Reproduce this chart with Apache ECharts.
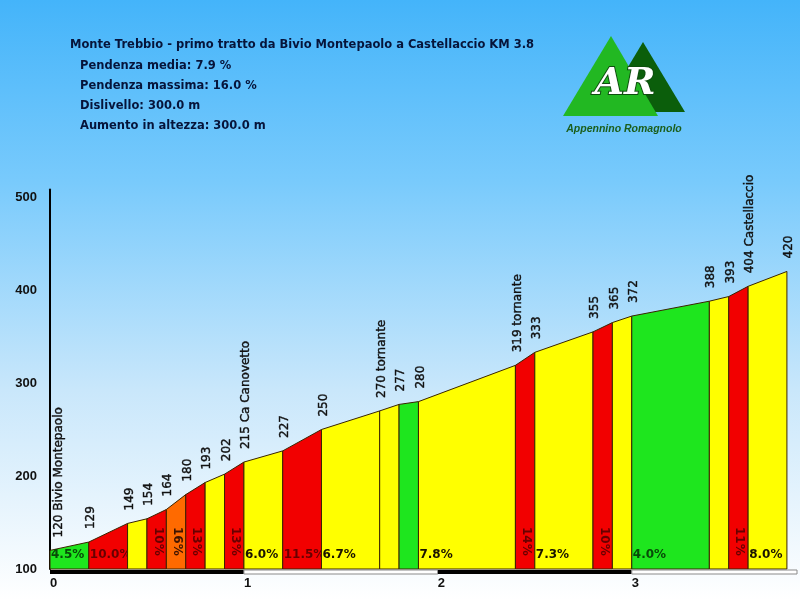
<!DOCTYPE html>
<html><head><meta charset="utf-8">
<script src="https://cdn.jsdelivr.net/npm/echarts@6/dist/echarts.min.js"></script>
<style>html,body{margin:0;padding:0;background:#fff}#c{width:800px;height:600px;}</style>
</head><body><div id="c"></div>
<script>
// ---- data ----
const km = [0, 0.2, 0.4, 0.5, 0.6, 0.7, 0.8, 0.9, 1.0, 1.2, 1.4, 1.7, 1.8, 1.9, 2.4, 2.5, 2.8, 2.9, 3.0, 3.4, 3.5, 3.6, 3.8];
const elevation = [120, 129, 149, 154, 164, 180, 193, 202, 215, 227, 250, 270, 277, 280, 319, 333, 355, 365, 372, 388, 393, 404, 420];
const placeNames = ['Bivio Montepaolo', '', '', '', '', '', '', '', 'Ca Canovetto', '', '', 'tornante', '', '', 'tornante', '', '', '', '', '', '', 'Castellaccio', ''];
const gradeLabels = ['4.5%', '10.0%', '', '10%', '16%', '13%', '', '13%', '6.0%', '11.5%', '6.7%', '', '', '7.8%', '14%', '7.3%', '10%', '', '4.0%', '', '11%', '8.0%'];
const yTicks = [100, 200, 300, 400, 500];
const xTicks = [0, 1, 2, 3];
const titleText = 'Monte Trebbio - primo tratto da Bivio Montepaolo a Castellaccio KM 3.8';
const infoLines = ['Pendenza media: 7.9 %', 'Pendenza massima: 16.0 %', 'Dislivello: 300.0 m', 'Aumento in altezza: 300.0 m'];
const logoText = 'AR';
const logoSub = 'Appennino Romagnolo';

// ---- styling helpers ----
const X_MAX = 3.852, Y_MIN = 100, Y_MAX = 508;
function fillFor(g) { return g < 5 ? '#1ee61e' : g < 10 ? '#ffff00' : g < 15.5 ? '#f20000' : '#ff6a00'; }
function textFor(g) { return g < 5 ? '#084a08' : g < 10 ? '#1a1400' : g < 15.5 ? '#680000' : '#401400'; }

const segs = [];
for (let i = 0; i < km.length - 1; i++) {
  const g = Math.round((elevation[i + 1] - elevation[i]) / ((km[i + 1] - km[i]) * 1000) * 1000) / 10;
  segs.push([km[i], elevation[i], km[i + 1], elevation[i + 1], g, i]);
}
const points = km.map((k, i) => [k, elevation[i], i]);
const kmBars = xTicks.map((t, i) => [t, i + 1 < xTicks.length ? xTicks[i + 1] : X_MAX, i]);

const chart = echarts.init(document.getElementById('c'), null, { renderer: 'canvas' });
const HEAD_FONT = 'bold 11.5px "DejaVu Sans"';
const GRADE_FONT = 'bold 12px "DejaVu Sans"';

const option = {
  animation: false,
  backgroundColor: {
    type: 'linear', x: 0, y: 0, x2: 0, y2: 1,
    colorStops: [
      { offset: 0, color: '#44b4fa' },
      { offset: 0.3, color: '#78cafc' },
      { offset: 0.65, color: '#c9e7fb' },
      { offset: 1, color: '#ffffff' }
    ]
  },
  grid: { left: 50, right: 0, top: 189.6, bottom: 31 },
  xAxis: {
    type: 'value', min: 0, max: X_MAX, interval: 1,
    axisLine: { show: false }, axisTick: { show: false }, splitLine: { show: false },
    axisLabel: {
      margin: 8, align: 'left', color: '#111', fontFamily: 'Liberation Sans', fontWeight: 'bold', fontSize: 13,
      formatter: v => (xTicks.indexOf(v) >= 0 ? String(v) : '')
    }
  },
  yAxis: {
    type: 'value', min: Y_MIN, max: Y_MAX, interval: 100,
    axisLine: { show: true, lineStyle: { color: '#000', width: 2 } },
    axisTick: { show: false }, splitLine: { show: false },
    axisLabel: {
      margin: 13, color: '#111', fontFamily: 'Liberation Sans', fontWeight: 'bold', fontSize: 13,
      formatter: v => (yTicks.indexOf(v) >= 0 ? String(v) : '')
    }
  },
  graphic: [
    { type: 'text', x: 70, y: 45, style: { text: titleText, fill: '#06143a', font: HEAD_FONT, verticalAlign: 'middle' } },
    ...infoLines.map((t, i) => ({ type: 'text', x: 80, y: 66 + i * 20, style: { text: t, fill: '#06143a', font: HEAD_FONT, verticalAlign: 'middle' } })),
    { type: 'polygon', shape: { points: [[643, 42], [685, 112], [601, 112]] }, style: { fill: '#0b5e0b' } },
    { type: 'polygon', shape: { points: [[611, 36], [658, 116], [563, 116]] }, style: { fill: '#22b822' } },
    { type: 'text', x: 625, y: 84, style: { text: logoText, fill: '#ffffff', stroke: '#0e4f0e', lineWidth: 2, font: 'italic bold 38px "DejaVu Serif"', align: 'center', verticalAlign: 'middle' } },
    { type: 'text', x: 624, y: 129, style: { text: logoSub, fill: '#1b5e1b', font: 'italic bold 10.5px "Liberation Sans"', align: 'center', verticalAlign: 'middle' } }
  ],
  series: [
    {
      type: 'custom', clip: false, z: 2,
      encode: { x: [0, 2], y: [1, 3] },
      data: segs,
      renderItem: function (params, api) {
        const k0 = api.value(0), e0 = api.value(1), k1 = api.value(2), e1 = api.value(3), g = api.value(4), idx = api.value(5);
        const b0 = api.coord([k0, Y_MIN]), t0 = api.coord([k0, e0]), t1 = api.coord([k1, e1]), b1 = api.coord([k1, Y_MIN]);
        const children = [{
          type: 'polygon',
          shape: { points: [b0, t0, t1, b1] },
          style: { fill: fillFor(g), stroke: '#3a2400', lineWidth: 1 }
        }];
        const lab = gradeLabels[idx];
        if (lab) {
          const narrow = (b1[0] - b0[0]) < 25;
          if (narrow) {
            children.push({
              type: 'text', x: (b0[0] + b1[0]) / 2 + 1, y: b0[1] - 42, rotation: -Math.PI / 2,
              style: { text: lab, fill: textFor(g), font: GRADE_FONT, align: 'left', verticalAlign: 'middle' }
            });
          } else {
            children.push({
              type: 'text', x: b0[0] + 1, y: b0[1] - 14,
              style: { text: lab, fill: textFor(g), font: GRADE_FONT, align: 'left', verticalAlign: 'middle' }
            });
          }
        }
        return { type: 'group', children: children };
      }
    },
    {
      type: 'custom', clip: false, z: 3,
      encode: { x: 0, y: 1 },
      data: points,
      renderItem: function (params, api) {
        const k = api.value(0), e = api.value(1), idx = api.value(2);
        const p = api.coord([k, e]);
        const name = placeNames[idx];
        const txt = name ? (e + ' ' + name) : String(e);
        return {
          type: 'text', x: p[0] + (idx === 0 ? 9 : 2), y: p[1] - 13, rotation: Math.PI / 2,
          style: { text: txt, fill: '#111', stroke: '#111', lineWidth: 0.4, font: '12px "DejaVu Sans"', align: 'left', verticalAlign: 'middle' }
        };
      }
    },
    {
      type: 'custom', clip: false, z: 4,
      encode: { x: [0, 1] },
      data: kmBars,
      renderItem: function (params, api) {
        const a = api.coord([api.value(0), Y_MIN]), b = api.coord([api.value(1), Y_MIN]);
        const dark = api.value(2) % 2 === 0;
        return {
          type: 'rect',
          shape: { x: a[0], y: a[1] + 1, width: b[0] - a[0], height: 4 },
          style: dark ? { fill: '#000' } : { fill: '#ffffff', stroke: '#8a8a8a', lineWidth: 1 }
        };
      }
    }
  ]
};
chart.setOption(option);
</script></body></html>
